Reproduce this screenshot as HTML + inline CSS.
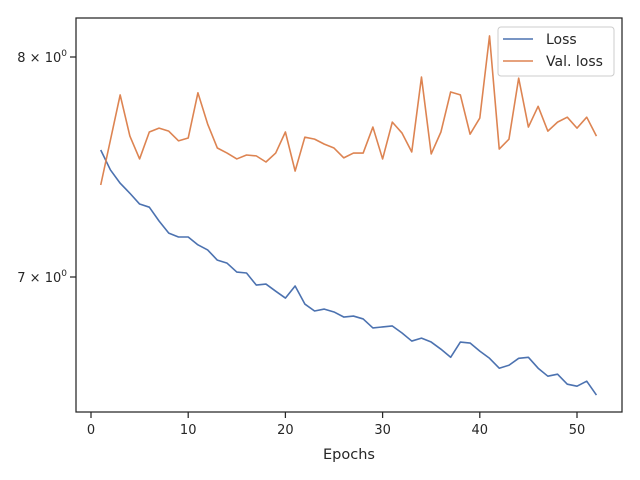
<!DOCTYPE html>
<html><head><meta charset="utf-8"><style>
html,body{margin:0;padding:0;background:#fff;}
svg{display:block;font-family:"DejaVu Sans","Liberation Sans",sans-serif;}
</style></head><body>
<svg id="chart" width="640" height="480" viewBox="0 0 640 480">
<rect x="0" y="0" width="640" height="480" fill="#fff"/>
<g id="plot"></g>
</svg>
<script>
const epochs = [];
for (let i = 1; i <= 52; i++) epochs.push(i);
const lossValues = [7.561,7.470,7.410,7.365,7.317,7.303,7.242,7.189,7.172,7.172,7.138,7.116,7.072,7.059,7.021,7.017,6.966,6.970,6.940,6.911,6.962,6.886,6.857,6.865,6.853,6.832,6.836,6.824,6.787,6.791,6.795,6.766,6.733,6.745,6.729,6.700,6.667,6.729,6.725,6.692,6.663,6.623,6.635,6.663,6.667,6.623,6.591,6.599,6.559,6.551,6.571,6.516];
const valLossValues = [7.402,7.607,7.818,7.625,7.520,7.644,7.662,7.648,7.603,7.616,7.828,7.681,7.570,7.547,7.520,7.538,7.534,7.506,7.547,7.644,7.465,7.620,7.611,7.588,7.570,7.525,7.547,7.547,7.667,7.520,7.690,7.639,7.552,7.903,7.543,7.644,7.832,7.818,7.634,7.709,8.103,7.565,7.611,7.898,7.667,7.764,7.648,7.690,7.713,7.662,7.713,7.625];
const xTicks = [0,10,20,30,40,50];
const yTicks = [7,8];
const yTickLabels = ["7","8"];

const L=76,R=622,T=18,B=412;
const xs = v => 91 + (v-0)*(577-91)/50;
const k = 220/Math.log(8/7);
const ys = v => 57 - (Math.log(v)-Math.log(8))*k;
const NS="http://www.w3.org/2000/svg";
const g=document.getElementById('plot');
function mk(tag,attrs,parent){const e=document.createElementNS(NS,tag);for(const a in attrs)e.setAttribute(a,attrs[a]);(parent||g).appendChild(e);return e;}

// axes frame
const frame=mk('rect',{x:L,y:T,width:R-L,height:B-T,fill:'none',stroke:'#262626','stroke-width':1.25});



xTicks.forEach(t=>{
  const x=xs(t);
  const tk=mk('line',{x1:x,x2:x,y1:B,y2:B+6,stroke:'#262626','stroke-width':1.25});
  
  
  const tx=mk('text',{x:x,y:B+22,'text-anchor':'middle','font-size':13,fill:'#262626'});
  tx.textContent=t;
  
  
});
yTicks.forEach((t,i)=>{
  const y=ys(t);
  const tk=mk('line',{x1:L-6,x2:L,y1:y,y2:y,stroke:'#262626','stroke-width':1.25});
  
  
  const tx=mk('text',{x:L-9,y:y+5,'text-anchor':'end','font-size':13,fill:'#262626'});
  tx.innerHTML=yTickLabels[i]+' × 10<tspan dy="-6" font-size="9">0</tspan>';
  
  
});
const xt=mk('text',{x:(L+R)/2,y:459,'text-anchor':'middle','font-size':14.5,fill:'#262626'});
xt.textContent='Epochs';



function series(vals,color,name){
  const d=vals.map((v,i)=>(i?'L':'M')+xs(epochs[i]).toFixed(2)+','+ys(v).toFixed(2)).join(' ');
  const p=mk('path',{d:d,fill:'none',stroke:color,'stroke-width':1.6,'stroke-linejoin':'round'});
  
  
}
series(lossValues,'#4c72b0','loss-line');
series(valLossValues,'#dd8452','val-loss-line');

// legend
const lg=mk('g',{});


mk('rect',{x:498,y:27,width:116,height:49,rx:3,fill:'#fff','fill-opacity':0.85,stroke:'#ccc','stroke-width':1},lg);
mk('line',{x1:503,x2:533,y1:39,y2:39,stroke:'#4c72b0','stroke-width':1.6},lg);
mk('line',{x1:503,x2:533,y1:61,y2:61,stroke:'#dd8452','stroke-width':1.6},lg);
const t1=mk('text',{x:546,y:44,'font-size':14,fill:'#262626'},lg);t1.textContent='Loss';


const t2=mk('text',{x:546,y:66,'font-size':14,fill:'#262626'},lg);t2.textContent='Val. loss';


</script>
</body></html>
